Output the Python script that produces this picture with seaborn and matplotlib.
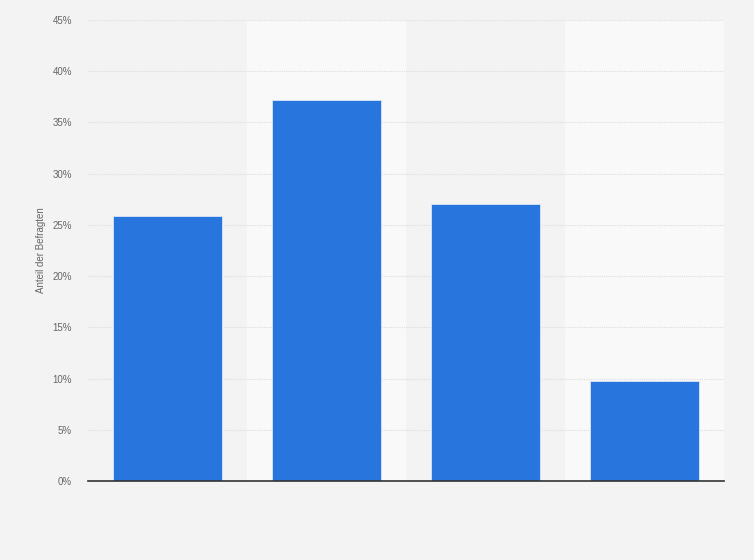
import matplotlib
matplotlib.use("Agg")
import matplotlib.pyplot as plt
import seaborn as sns
import pandas as pd

categories = ["Kategorie 1", "Kategorie 2", "Kategorie 3", "Kategorie 4"]
values = [25.9, 37.2, 27.0, 9.8]
yticks = [0, 5, 10, 15, 20, 25, 30, 35, 40, 45]
ytick_labels = [f"{t}%" for t in yticks]

sns.set_theme(style="white")
plt.rcParams['font.family'] = ['Liberation Sans', 'DejaVu Sans']

df = pd.DataFrame({"cat": categories, "val": values})

fig = plt.figure(figsize=(7.54, 5.60), dpi=100, facecolor="#f3f3f3")
ax = fig.add_axes([88/754, 79/560, 636/754, 461/560])
ax.set_facecolor("#f3f3f3")

for i in range(len(categories)):
    if i % 2 == 1:
        ax.axvspan(i - 0.5, i + 0.5, color="#f9f9f9", zorder=0, lw=0)

sns.barplot(data=df, x="cat", y="val", ax=ax, color="#2876dd", width=0.686,
            saturation=1, edgecolor="#d9e6f7", linewidth=0.6, zorder=3)

ax.set_xlim(-0.5, len(categories) - 0.5)
ax.set_ylim(0, 45)
ax.set_yticks(yticks)
ax.set_yticklabels(ytick_labels, fontsize=7, color="#666666")
ax.set_xticks(range(len(categories)))
ax.set_xticklabels([""] * len(categories))
ax.tick_params(axis="both", length=0)
ax.tick_params(axis="y", pad=11.5)
ax.yaxis.grid(True, color="#dddddd", linestyle=(0, (1, 1)), linewidth=0.8, zorder=1)
ax.set_axisbelow(True)
for s in ["top", "right", "left"]:
    ax.spines[s].set_visible(False)
ax.spines["bottom"].set_color("#333333")
ax.spines["bottom"].set_linewidth(1.2)
ax.spines["bottom"].set_zorder(5)
ax.set_xlabel("")
ax.set_ylabel("Anteil der Befragten", fontsize=7, color="#666666", labelpad=5)

fig.savefig("out.png", dpi=100, facecolor=fig.get_facecolor())
